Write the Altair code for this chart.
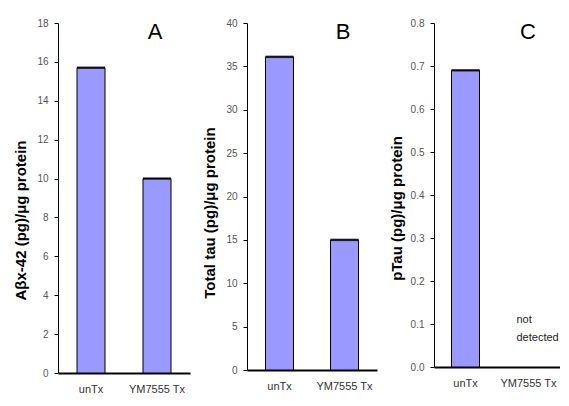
import altair as alt
import pandas as pd

categories = ["unTx", "YM7555 Tx"]
abeta = [15.7, 10.0]
total_tau = [36.1, 15.0]
ptau = [0.69, 0.0]

titles = ["Aβx-42 (pg)/μg protein", "Total tau (pg)/μg protein", "pTau (pg)/μg protein"]
letters = ["A", "B", "C"]
ymax = [18, 40, 0.8]
ysteps = [2, 5, 0.1]
yformats = ["d", "d", ".1f"]

LABEL_FONT = "Liberation Sans"
TITLE_FONT = "Liberation Sans"
BAR = "#9999FF"


def panel(values, i, width, height, title_shift, letter_x, note=None):
    df = pd.DataFrame({"cat": categories, "val": values})
    nt = int(round(ymax[i] / ysteps[i]))
    ticks = [round(k * ysteps[i], 3) for k in range(nt + 1)]
    x = alt.X("cat:N", sort=categories, title=None,
              scale=alt.Scale(paddingInner=0.58, paddingOuter=0.29),
              axis=alt.Axis(labelAngle=0, domainWidth=2, domainColor="black",
                            ticks=False, labelFont=LABEL_FONT, labelFontSize=11,
                            labelColor="#333", labelPadding=10))
    y = alt.Y("val:Q", title=titles[i],
              scale=alt.Scale(domain=[0, ymax[i]], nice=False),
              axis=alt.Axis(values=ticks, format=yformats[i], grid=False,
                            labelOverlap=False, tickCount=nt + 1,
                            domainColor="black", tickColor="black", tickSize=4,
                            labelFont=LABEL_FONT, labelFontSize=10, labelColor="#555",
                            labelPadding=6, minExtent=20, maxExtent=20,
                            titleFont=TITLE_FONT, titleFontSize=15,
                            titleY=height / 2 + title_shift,
                            titleFontWeight="bold", titleColor="black", titlePadding=10))
    base = alt.Chart(df).transform_filter("datum.val > 0").encode(x=x, y=y)
    bars = base.mark_bar(color=BAR, stroke="black", strokeWidth=1, size=28)
    tops = base.mark_tick(color="black", thickness=2.5, size=28)
    letter = alt.Chart(pd.DataFrame({"t": [letters[i]]})).mark_text(
        font=TITLE_FONT, fontSize=22, align="center", baseline="middle").encode(
        text="t:N", x=alt.value(letter_x), y=alt.value(9))
    layers = [bars, tops, letter]
    if note:
        ndf = pd.DataFrame({"cat": [categories[1]], "txt": [note]})
        layers.append(alt.Chart(ndf).mark_text(
            font=LABEL_FONT, fontSize=11, align="left", baseline="middle",
            lineBreak="\n", lineHeight=18, dx=-12, dy=-47, color="#222").encode(
            x=x, y=alt.datum(0), text="txt:N"))
    return alt.layer(*layers).properties(width=width, height=height)


chart = alt.hconcat(
    panel(abeta, 0, 132, 350, 22, 97),
    panel(total_tau, 1, 130, 347, 16, 96),
    panel(ptau, 2, 126, 344, 13, 94, note="not\ndetected"),
    spacing=12,
).resolve_scale(y="independent").configure(
    background="white", padding={"left": 5, "top": 10, "right": 0, "bottom": 0}
).configure_view(stroke=None)

chart.save("out.html", embed_options={"renderer": "svg", "actions": False})
